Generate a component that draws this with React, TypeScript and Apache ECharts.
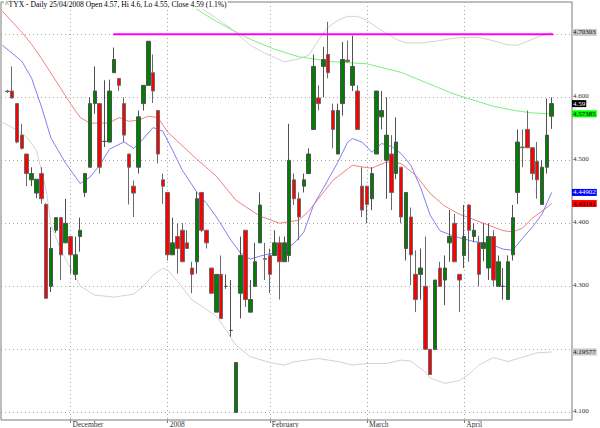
import { useEffect, useRef } from "react";
import * as echarts from "echarts";

// Month boundaries (session index of the first trading day) and their labels
const monthStartIdx = [13, 33, 54, 74, 94];
const monthLabels = ["December", "2008", "February", "March", "April"];

// Daily sessions, 13 Nov 2007 - 25 Apr 2008: [open, close, low, high]
const sessions: number[][] = [
  [4.610, 4.609, 4.607, 4.612], [4.610, 4.599, 4.598, 4.649], [4.590, 4.529, 4.527, 4.591],
  [4.540, 4.519, 4.517, 4.558], [4.510, 4.479, 4.459, 4.510], [4.469, 4.479, 4.459, 4.489],
  [4.448, 4.470, 4.440, 4.470], [4.479, 4.439, 4.431, 4.489], [4.430, 4.281, 4.280, 4.432],
  [4.300, 4.360, 4.291, 4.394], [4.389, 4.409, 4.385, 4.410], [4.409, 4.350, 4.310, 4.410],
  [4.369, 4.400, 4.369, 4.439], [4.379, 4.350, 4.320, 4.380], [4.319, 4.350, 4.310, 4.379],
  [4.379, 4.389, 4.355, 4.409], [4.449, 4.479, 4.442, 4.480], [4.489, 4.590, 4.489, 4.600],
  [4.590, 4.610, 4.574, 4.649], [4.590, 4.489, 4.479, 4.590], [4.530, 4.530, 4.521, 4.627],
  [4.529, 4.610, 4.529, 4.628], [4.639, 4.660, 4.639, 4.679], [4.630, 4.619, 4.610, 4.630],
  [4.590, 4.540, 4.529, 4.600], [4.510, 4.489, 4.430, 4.510], [4.459, 4.448, 4.410, 4.468],
  [4.489, 4.569, 4.479, 4.579], [4.590, 4.619, 4.579, 4.619], [4.619, 4.689, 4.619, 4.689],
  [4.639, 4.610, 4.591, 4.668], [4.579, 4.510, 4.495, 4.579], [4.469, 4.459, 4.431, 4.479],
  [4.449, 4.350, 4.341, 4.449], [4.350, 4.369, 4.350, 4.409], [4.379, 4.360, 4.320, 4.400],
  [4.389, 4.339, 4.339, 4.400], [4.369, 4.360, 4.360, 4.389], [4.329, 4.319, 4.289, 4.339],
  [4.339, 4.439, 4.320, 4.450], [4.449, 4.389, 4.386, 4.449], [4.389, 4.369, 4.360, 4.389],
  [4.329, 4.289, 4.289, 4.329], [4.259, 4.319, 4.259, 4.319], [4.319, 4.249, 4.249, 4.349],
  [4.300, 4.300, 4.296, 4.319], [4.230, 4.230, 4.220, 4.310], [4.100, 4.179, 4.100, 4.179],
  [4.289, 4.349, 4.249, 4.379], [4.389, 4.279, 4.267, 4.389], [4.259, 4.279, 4.259, 4.310],
  [4.300, 4.339, 4.300, 4.369], [4.369, 4.429, 4.369, 4.449], [4.344, 4.343, 4.310, 4.369],
  [4.349, 4.319, 4.289, 4.360], [4.349, 4.369, 4.349, 4.389], [4.369, 4.339, 4.279, 4.379],
  [4.339, 4.369, 4.339, 4.379], [4.349, 4.500, 4.339, 4.558], [4.469, 4.439, 4.429, 4.479],
  [4.439, 4.410, 4.373, 4.449], [4.459, 4.469, 4.449, 4.479], [4.479, 4.510, 4.479, 4.519],
  [4.549, 4.649, 4.549, 4.668], [4.599, 4.590, 4.579, 4.619], [4.649, 4.660, 4.600, 4.680],
  [4.668, 4.639, 4.630, 4.720], [4.579, 4.549, 4.519, 4.590], [4.510, 4.579, 4.510, 4.590],
  [4.590, 4.660, 4.571, 4.688], [4.659, 4.657, 4.655, 4.690], [4.619, 4.649, 4.610, 4.698],
  [4.610, 4.549, 4.549, 4.619], [4.459, 4.421, 4.410, 4.489], [4.459, 4.430, 4.400, 4.459],
  [4.439, 4.479, 4.421, 4.489], [4.510, 4.610, 4.510, 4.610], [4.569, 4.579, 4.549, 4.610],
  [4.500, 4.540, 4.439, 4.600], [4.510, 4.449, 4.421, 4.540], [4.479, 4.529, 4.470, 4.568],
  [4.489, 4.410, 4.400, 4.489], [4.360, 4.449, 4.341, 4.449], [4.410, 4.350, 4.302, 4.425],
  [4.319, 4.279, 4.259, 4.357], [4.319, 4.329, 4.279, 4.360], [4.300, 4.200, 4.200, 4.379],
  [4.200, 4.160, 4.160, 4.200], [4.200, 4.310, 4.200, 4.310], [4.329, 4.300, 4.300, 4.339],
  [4.310, 4.329, 4.270, 4.349], [4.369, 4.379, 4.339, 4.421], [4.400, 4.339, 4.339, 4.415],
  [4.319, 4.310, 4.259, 4.319], [4.349, 4.379, 4.329, 4.429], [4.429, 4.389, 4.339, 4.430],
  [4.379, 4.389, 4.370, 4.400], [4.369, 4.319, 4.300, 4.380], [4.360, 4.369, 4.340, 4.400],
  [4.329, 4.379, 4.310, 4.400], [4.379, 4.310, 4.300, 4.389], [4.300, 4.339, 4.300, 4.349],
  [4.300, 4.300, 4.279, 4.329], [4.279, 4.339, 4.279, 4.349], [4.350, 4.409, 4.341, 4.429],
  [4.449, 4.529, 4.431, 4.549], [4.521, 4.520, 4.489, 4.549], [4.549, 4.520, 4.520, 4.579],
  [4.520, 4.479, 4.469, 4.520], [4.498, 4.469, 4.439, 4.529], [4.430, 4.489, 4.430, 4.500],
  [4.489, 4.540, 4.479, 4.598], [4.570, 4.590, 4.550, 4.600],
];

// Overlay lines, [session index, value]
const shortAvg = [
  [-1, 4.6826], [3, 4.6572], [5, 4.6302], [7, 4.5858], [9, 4.535], [12, 4.4954], [15, 4.4632],
  [17, 4.4732], [19, 4.4922], [21, 4.5176], [24, 4.5292], [26, 4.5192], [27, 4.5255], [30, 4.552],
  [32, 4.5462], [34, 4.516], [36, 4.4843], [39, 4.4494], [41, 4.4315], [43, 4.4102], [46, 4.3733],
  [48, 4.3527], [50, 4.3431], [52, 4.3479], [54, 4.3519], [56, 4.3522], [59, 4.3685], [61, 4.386],
  [63, 4.4288], [65, 4.4557], [68, 4.497], [70, 4.5287], [71, 4.5346], [73, 4.5287], [75, 4.5128],
  [77, 4.5266], [79, 4.5223], [81, 4.5108], [83, 4.4922], [85, 4.4573], [87, 4.4129], [89, 4.3883],
  [91, 4.382], [93, 4.3772], [96, 4.3709], [99, 4.3685], [102, 4.359], [104, 4.3574], [106, 4.3764],
  [108, 4.3939], [110, 4.4145], [112, 4.44902],
];
const midAvg = [
  [-1, 4.7365], [3, 4.7032], [5, 4.684], [7, 4.662], [9, 4.638], [11, 4.614], [13, 4.590],
  [15, 4.568], [17, 4.559], [21, 4.5593], [23, 4.5679], [25, 4.562], [27, 4.5636], [29, 4.570],
  [31, 4.5679], [33, 4.5446], [37, 4.516], [39, 4.5017], [43, 4.4748], [47, 4.4367], [52, 4.4113],
  [56, 4.4002], [60, 4.405], [62, 4.4193], [67, 4.4684], [71, 4.4922], [73, 4.4895], [75, 4.4875],
  [78, 4.4975], [81, 4.4949], [84, 4.4764], [87, 4.4473], [90, 4.4272], [93, 4.4145], [96, 4.4058],
  [99, 4.3971], [102, 4.3883], [104, 4.3864], [106, 4.3923], [108, 4.4082], [110, 4.4193],
  [112, 4.43141],
];
const longAvg = [
  [36, 4.754], [37, 4.7492], [40, 4.7349], [43, 4.7206], [46, 4.7079], [50, 4.6921], [55, 4.6762],
  [60, 4.6643], [67, 4.6564], [74, 4.6532], [78, 4.6453], [81, 4.6397], [84, 4.6302], [88, 4.6175],
  [92, 4.6048], [96, 4.5953], [100, 4.5858], [104, 4.5795], [108, 4.5752], [112, 4.57385],
];
const bandUpper = [
  [37, 4.756], [38, 4.7492], [40, 4.7412], [43, 4.7254], [46, 4.7095], [50, 4.6826], [53, 4.6699],
  [57, 4.6564], [60, 4.6611], [62, 4.6667], [64, 4.6905], [65, 4.7016], [66, 4.7111], [68, 4.7222],
  [70, 4.7285], [72, 4.7285], [74, 4.7222], [76, 4.7111], [78, 4.7016], [80, 4.6921], [82, 4.6865],
  [85, 4.6862], [88, 4.6889], [91, 4.6929], [94, 4.6952], [97, 4.6952], [100, 4.6897], [103, 4.6833],
  [105, 4.6826], [107, 4.6889], [109, 4.6952], [112, 4.70303],
];
const bandLower = [
  [-1, 4.5604], [2, 4.5477], [4, 4.5366], [6, 4.516], [8, 4.4526], [9, 4.3971], [11, 4.3574],
  [13, 4.3289], [15, 4.3003], [18, 4.286], [22, 4.2829], [26, 4.2876], [28, 4.3003], [30, 4.3178],
  [32, 4.3289], [33, 4.3257], [35, 4.3082], [38, 4.2781], [40, 4.2686], [43, 4.2527], [45, 4.2305],
  [47, 4.2067], [50, 4.1882], [54, 4.179], [57, 4.175], [59, 4.1802], [64, 4.1853], [68, 4.1806],
  [71, 4.175], [74, 4.1774], [78, 4.1774], [81, 4.1829], [83, 4.1813], [86, 4.1639], [87, 4.1544],
  [90, 4.146], [93, 4.1504], [95, 4.1607], [97, 4.175], [100, 4.1869], [103, 4.1806], [106, 4.1877],
  [109, 4.1945], [112, 4.19577],
];

// Hand-drawn resistance line
const resistance = [[21.8, 4.70], [112.3, 4.70]];

// Price scale
const gridValues = [4.1, 4.2, 4.3, 4.4, 4.5, 4.6, 4.7];
const priceLabels = [4.1, 4.3, 4.4, 4.5, 4.6];

// Last-value tags on the price scale
const tagValues = [4.70303, 4.59, 4.57385, 4.44902, 4.43141, 4.19577];
const tagTexts = ["4.70303", "4.59", "4.57385", "4.44902", "4.43141", "4.19577"];
const tagBg = ["#c8c8c8", "#000000", "#00ff00", "#0000ff", "#ff0000", "#c8c8c8"];
const tagFg = ["#222222", "#ffffff", "#000000", "#ffffff", "#000000", "#222222"];

const TITLE = "^TYX - Daily 25/04/2008 Open 4.57, Hi 4.6, Lo 4.55, Close 4.59 (1.1%)";
const FONT = "Liberation Serif";

export default function App() {
  const ref = useRef<HTMLDivElement>(null);

  useEffect(() => {
    document.body.style.margin = "0";
    const chart = echarts.init(ref.current!, null, { renderer: "svg" });

    const rich: Record<string, any> = {};
    tagTexts.forEach((_, i) => {
      rich["t" + i] = {
        backgroundColor: tagBg[i],
        color: tagFg[i],
        fontSize: 7,
        fontFamily: FONT,
        lineHeight: 7,
        padding: [0, 1, 0, 1],
      };
    });

    const yMin = 4.0878;
    const yMax = 4.7513;

    const lineSeries = (data: number[][], color: string, width = 1) => ({
      type: "line",
      data,
      showSymbol: false,
      symbol: "none",
      silent: true,
      lineStyle: { color, width },
      z: 1,
    });

    chart.setOption({
      animation: false,
      backgroundColor: "#ffffff",
      title: {
        text: TITLE,
        left: 4,
        top: 0,
        padding: [0, 1, 0, 1],
        backgroundColor: "#ffffff",
        textStyle: {
          fontSize: 7.6,
          fontFamily: FONT,
          fontWeight: "normal",
          color: "#000000",
          lineHeight: 9,
        },
      },
      grid: {
        left: 1,
        right: 28,
        top: 2,
        bottom: 8,
        show: true,
        borderColor: "#7a7a7a",
        borderWidth: 1,
        backgroundColor: "#ffffff",
      },
      xAxis: {
        type: "value",
        min: -1.296,
        max: 116.17,
        axisLine: { show: false, onZero: false },
        axisTick: {
          show: true,
          customValues: monthStartIdx,
          length: 3,
          lineStyle: { color: "#7a7a7a" },
        },
        axisLabel: {
          customValues: monthStartIdx,
          formatter: (v: number) => monthLabels[monthStartIdx.indexOf(Math.round(v))] ?? "",
          align: "left",
          margin: 0,
          padding: [0, 0, 0, 2],
          fontSize: 7.5,
          lineHeight: 8,
          fontFamily: FONT,
          color: "#333333",
        },
        splitLine: {
          show: true,
          lineStyle: { color: "#a8a8a8", type: [1, 3], width: 1 },
        },
      },
      yAxis: [
        {
          type: "value",
          position: "right",
          min: yMin,
          max: yMax,
          axisLine: { show: false },
          axisTick: { show: false, customValues: gridValues },
          axisLabel: {
            customValues: priceLabels,
            formatter: (v: number) => `{p|${v.toFixed(3)}}`,
            margin: 1,
            rich: {
              p: {
                fontSize: 7,
                lineHeight: 5,
                padding: [0, 0, 2, 0],
                fontFamily: FONT,
                color: "#333333",
              },
            },
          },
          splitLine: {
            show: true,
            lineStyle: { color: "#a8a8a8", type: [1, 3], width: 1 },
          },
        },
        {
          type: "value",
          position: "right",
          min: yMin,
          max: yMax,
          axisLine: { show: false },
          axisTick: { show: false },
          splitLine: { show: false },
          axisLabel: {
            customValues: tagValues,
            margin: 0,
            formatter: (v: number) => {
              let best = 0;
              tagValues.forEach((t, i) => {
                if (Math.abs(t - v) < Math.abs(tagValues[best] - v)) best = i;
              });
              return `{t${best}|${tagTexts[best]}}`;
            },
            rich,
          },
        },
      ],
      series: [
        lineSeries(bandUpper, "#d2d2d2"),
        lineSeries(bandLower, "#d2d2d2"),
        lineSeries(longAvg, "#7cf07c"),
        lineSeries(midAvg, "#f28080"),
        lineSeries(shortAvg, "#8080f5"),
        {
          type: "candlestick",
          data: sessions.map((s, i) => [i, s[0], s[1], s[2], s[3]]),
          encode: { x: 0, y: [1, 2, 3, 4] },
          barWidth: 4,
          silent: true,
          z: 3,
          itemStyle: {
            color: "#008000",
            color0: "#ff0000",
            borderColor: "#505050",
            borderColor0: "#6a6a6a",
            borderColorDoji: "#505050",
            borderWidth: 1,
          },
        },
        { ...lineSeries(resistance, "#ff00ff", 2), z: 4 },
      ],
    });

    return () => chart.dispose();
  }, []);

  return (
    <div
      ref={ref}
      style={{ position: "fixed", left: 0, top: 0, width: 600, height: 428 }}
    />
  );
}
